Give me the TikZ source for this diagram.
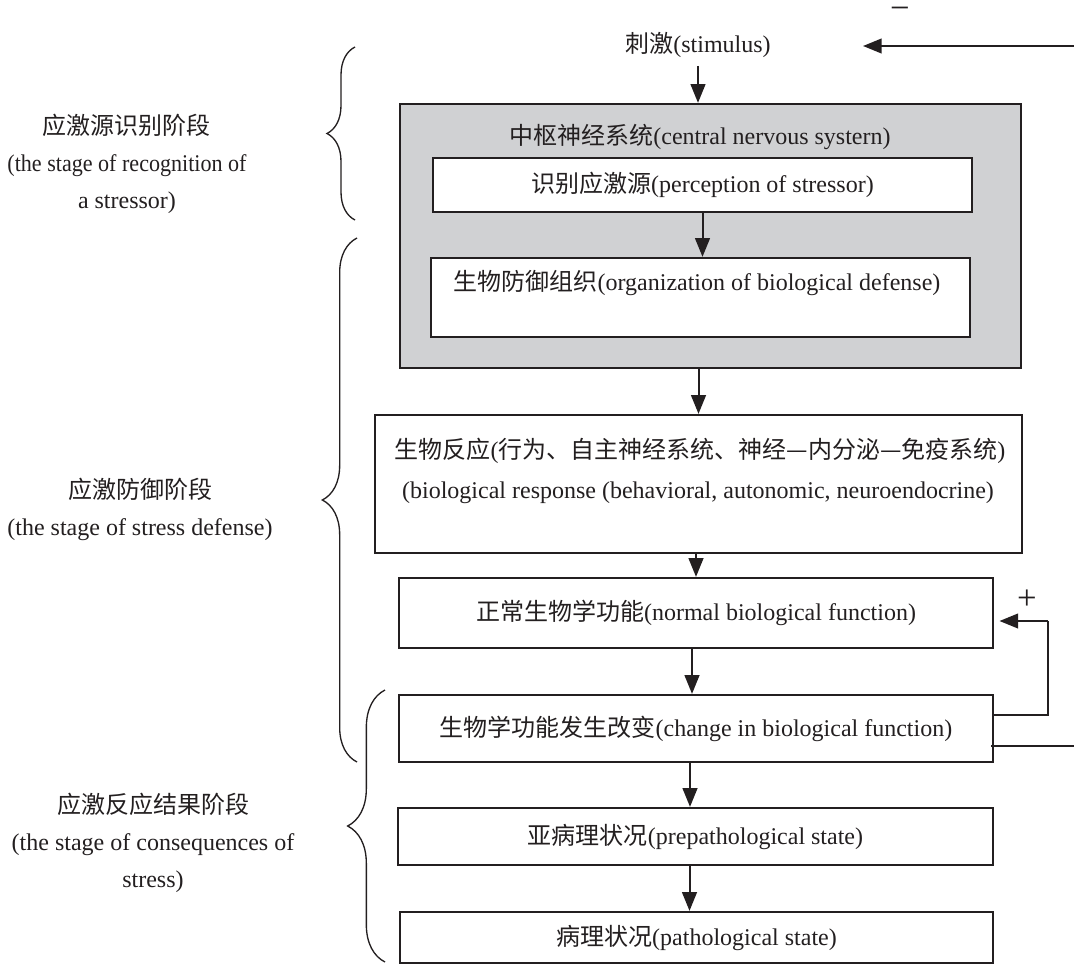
\documentclass[tikz,border=0pt]{standalone}
\usepackage{fontspec}
\setmainfont{Liberation Serif}
\newfontfamily\zhfont{Noto Sans CJK SC}
\newcommand\zh[1]{{\zhfont #1}}
\usetikzlibrary{arrows.meta,decorations.pathreplacing}
\definecolor{grayfill}{RGB}{208,209,211}
\definecolor{ink}{RGB}{35,31,32}
\begin{document}
\begin{tikzpicture}[x=0.75pt,y=-0.75pt,
  font=\fontsize{18}{22}\selectfont,
  box/.style={draw=ink, line width=1.7pt, fill=white, inner sep=0pt, text=ink},
  txt/.style={text=ink, inner sep=0pt},
  arr/.style={draw=ink, line width=1.5pt, -{Triangle[length=14pt,width=11pt]}},
  fb/.style={draw=ink, line width=1.5pt},
  brc/.style={draw=ink, line width=1pt, decorate, decoration={brace, amplitude=#1}},
  side/.style={txt, align=center, font=\fontsize{18}{27.75}\selectfont}]
\useasboundingbox (0,0) rectangle (1074,967);
\clip (0,0) rectangle (1074,967);

% main column
\node[txt] (stim) at (698,45) {\zh{刺激}(stimulus)};
\node[box, fill=grayfill, minimum width=465.75pt, minimum height=198pt] (cns) at (710.5,236) {};
\node[txt] (cnsT) at (700,137) {\zh{中枢神经系统}(central nervous systern)};
\node[box, minimum width=404.25pt, minimum height=40.5pt] (perc) at (702.5,185) {\zh{识别应激源}(perception of stressor)};
\node[box, minimum width=404.25pt, minimum height=59.25pt] (org) at (700.5,297.5) {};
\node[txt] (orgT) at (697,283) {\zh{生物防御组织}(organization of biological defense)};
\node[box, minimum width=485.25pt, minimum height=103.5pt] (resp) at (698.5,484) {};
\node[txt] (respA) at (700,451) {\zh{生物反应}(\zh{行为、自主神经系统、神经—内分泌—免疫系统})};
\node[txt] (respB) at (698,493) {(biological response (behavioral, autonomic, neuroendocrine)};
\node[box, minimum width=445.5pt, minimum height=52.5pt] (norm) at (696,613) {\zh{正常生物学功能}(normal biological function)};
\node[box, minimum width=445.5pt, minimum height=50.25pt] (chg) at (696,728.5) {\zh{生物学功能发生改变}(change in biological function)};
\node[box, minimum width=446.25pt, minimum height=42.75pt] (prep) at (695.5,836.5) {\zh{亚病理状况}(prepathological state)};
\node[box, minimum width=444.75pt, minimum height=38.25pt] (path) at (696.5,937.5) {\zh{病理状况}(pathological state)};

% arrows
\draw[arr, shorten <=6pt] (stim.south) -- (stim.south |- cns.north);
\draw[arr] (perc.south) -- (perc.south |- org.north);
\draw[arr] (resp.north |- cns.south) -- (resp.north);
\draw[arr] (norm.north |- resp.south) -- (norm.north);
\draw[arr] ([xshift=-3pt]norm.south) -- ([xshift=-3pt]norm.south |- chg.north);
\draw[arr] ([xshift=-4.5pt]chg.south) -- ([xshift=-4.5pt]chg.south |- prep.north);
\draw[arr] ([xshift=-4.5pt]prep.south) -- ([xshift=-4.5pt]prep.south |- path.north);

% feedback loops
\coordinate (fbp) at (1048,621);
\coordinate (fbm) at (1085,46);
\coordinate (mtip) at (863,46);
\draw[fb] ([yshift=10pt]chg.east) -| (fbp);
\draw[arr, shorten >=4pt] (fbp) -- (norm.east |- fbp);
\draw[fb] ([yshift=-13pt,xshift=-2pt]chg.east) -| (fbm);
\draw[arr] (fbm) -- (mtip);
\node[txt, font=\fontsize{26}{26}\selectfont] (plus) at (1027,600) {+};
\node[txt, font=\fontsize{26}{26}\selectfont, text height=8pt, text depth=0pt, anchor=base] (minus) at (900,19) {−};

% stage braces
\draw[brc=21pt] (355,220) -- (355,47);
\draw[brc=26pt] (357,762) -- (357,238);
\draw[brc=28pt] (385,962) -- (385,690);

% stage labels
\node[side] (s1) at (127,164) {\zh{应激源识别阶段}\\\scalebox{0.92}[1]{(the stage of recognition of}\\a stressor)};
\node[side] (s2) at (140,509) {\zh{应激防御阶段}\\(the stage of stress defense)};
\node[side] (s3) at (153,843) {\zh{应激反应结果阶段}\\(the stage of consequences of\\stress)};
\end{tikzpicture}
\end{document}
